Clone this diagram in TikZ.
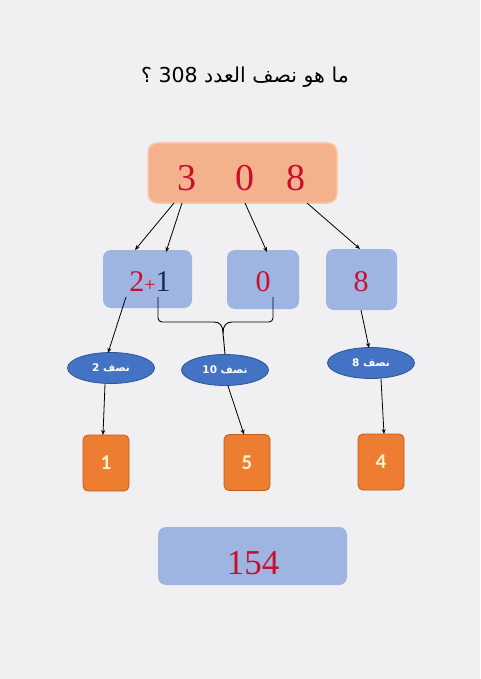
\documentclass[tikz,border=0pt]{standalone}
\usepackage{fontspec}
\setmainfont{Liberation Serif}
\newfontfamily\arabicfont[Script=Arabic]{DejaVu Sans}
\newfontfamily\numsans{Carlito}
\TeXXeTstate=1
\usetikzlibrary{shapes.geometric,arrows.meta}
\definecolor{bgc}{HTML}{F0F0F2}
\definecolor{peach}{HTML}{F4B28C}
\definecolor{peachb}{HTML}{F8C9AE}
\definecolor{boxblue}{HTML}{9FB5E1}
\definecolor{ellblue}{HTML}{4472C4}
\definecolor{ellbord}{HTML}{2F5597}
\definecolor{sqor}{HTML}{ED7D31}
\definecolor{sqbord}{HTML}{C55A11}
\definecolor{redtxt}{HTML}{C8102E}
\definecolor{navy}{HTML}{1F2A5C}
\definecolor{sqtxt}{HTML}{FFF2CC}
\tikzset{
  topbox/.style={draw=peachb, line width=1.5pt, fill=peach, rounded corners=9pt, minimum width=189pt, minimum height=60pt, inner sep=0pt},
  midbox/.style={draw=none, fill=boxblue, rounded corners=8pt, inner sep=0pt},
  ell/.style={ellipse, draw=ellbord, line width=0.8pt, fill=ellblue, minimum width=87pt, minimum height=31pt, inner sep=0pt, text=white, font=\arabicfont\bfseries\fontsize{10.5}{12}\selectfont},
  sq/.style={draw=sqbord, line width=0.8pt, fill=sqor, rounded corners=5pt, minimum width=46pt, minimum height=56pt, inner sep=0pt, text=sqtxt, font=\numsans\bfseries\fontsize{21}{23}\selectfont},
  bigdigit/.style={text=redtxt, font=\fontsize{38}{40}\selectfont, inner sep=0pt},
  middigit/.style={text=redtxt, font=\fontsize{30}{32}\selectfont, inner sep=0pt},
  arr/.style={draw=black, line width=0.8pt, -{Stealth[length=5pt,width=4pt]}},
  ln/.style={draw=black, line width=0.9pt},
}
\begin{document}
\begin{tikzpicture}[x=1pt,y=-1pt]
\fill[bgc] (0,0) rectangle (480,679);
\useasboundingbox (0,0) rectangle (480,679);

% title
\node[font=\arabicfont\fontsize{20.5}{24}\selectfont, inner sep=0pt] (title) at (245,77) {\beginR ما هو نصف العدد \beginL308\endL{} ؟\endR};

% top box
\node[topbox] (top) at (242.5,173) {};
\node[bigdigit] (d3) at (187,178) {3};
\node[bigdigit] (d0) at (245,178) {0};
\node[bigdigit] (d8) at (296,178) {8};

% middle boxes
\node[midbox, minimum width=89pt, minimum height=58pt] (m1) at (147.5,279) {};
\node[midbox, minimum width=72pt, minimum height=59pt] (m2) at (263,279.5) {};
\node[midbox, minimum width=71pt, minimum height=61pt] (m3) at (361.5,279.5) {};
\node[inner sep=0pt, font=\fontsize{30}{32}\selectfont] (t1) at (150,282) {\textcolor{redtxt}{2}\textcolor{redtxt}{\fontsize{20}{22}\selectfont+}\textcolor{navy}{1}};
\node[middigit] (t2) at (263,282) {0};
\node[middigit] (t3) at (361,282) {8};

% arrows from top box
\coordinate (a1s) at (174,203); \coordinate (a1e) at (135,250);
\coordinate (a2s) at (182,203); \coordinate (a2e) at (166,252);
\coordinate (a3s) at (245,203); \coordinate (a3e) at (267,252);
\coordinate (a4s) at (307,203); \coordinate (a4e) at (360,249);
\draw[arr] (a1s) -- (a1e);
\draw[arr] (a2s) -- (a2e);
\draw[arr] (a3s) -- (a3e);
\draw[arr] (a4s) -- (a4e);

% ellipses
\node[ell] (e1) at (111,368) {\beginR نصف 2\endR};
\node[ell] (e2) at (225,370) {\beginR نصف 10\endR};
\node[ell] (e3) at (371,363) {\beginR نصف 8\endR};

% brace
\coordinate (bl) at (158,297);
\coordinate (br) at (273,297);
\coordinate (bm) at (223,333);
\draw[ln, rounded corners=4pt] (bl) -- (158,322) -- (214,322);
\draw[ln] (214,322) .. controls (220,322) and (223,326) .. (bm);
\draw[ln, rounded corners=4pt] (br) -- (273,322) -- (232,322);
\draw[ln] (232,322) .. controls (226,322) and (223,326) .. (bm);
\draw[ln] (bm) -- (e2.north);

% arrows to ellipses
\coordinate (b1s) at (126,297);
\coordinate (b1e) at (108,353);
\coordinate (b3s) at (361,310);
\coordinate (b3e) at (369,348);
\draw[arr] (b1s) -- (b1e);
\draw[arr] (b3s) -- (b3e);

% orange squares
\node[sq] (s1) at (106,463) {1};
\node[sq] (s2) at (247,462.5) {5};
\node[sq] (s3) at (381,462) {4};

\coordinate (c1s) at (105,384); \coordinate (c1e) at (103,435);
\coordinate (c2s) at (228,386); \coordinate (c2e) at (244,434.5);
\coordinate (c3s) at (381,379); \coordinate (c3e) at (384,434);
\draw[arr] (c1s) -- (c1e);
\draw[arr] (c2s) -- (c2e);
\draw[arr] (c3s) -- (c3e);

% bottom box
\node[midbox, minimum width=189pt, minimum height=58pt] (bot) at (252.5,556) {};
\node[middigit, font=\fontsize{35}{37}\selectfont] (res) at (253,563) {154};
\end{tikzpicture}
\end{document}
